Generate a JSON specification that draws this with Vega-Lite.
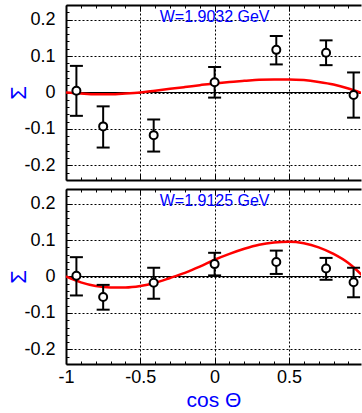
{
  "$schema": "https://vega.github.io/schema/vega-lite/v6.json",
  "padding": {"left": 7, "top": 4, "right": 0, "bottom": 0},
  "config": {
    "font": "Liberation Sans",
    "view": {"stroke": null},
    "axis": {"tickColor": "black", "tickWidth": 1, "domainColor": "black", "gridColor": "black", "gridDash": [2, 2], "gridWidth": 1, "labelColor": "black", "labelFontSize": 18, "labelFlush": false, "titleFontWeight": "normal"}
  },
  "datasets": {
    "pts": [
      {"panel": "a", "x": -0.93, "y": 0.005, "lo": -0.064, "hi": 0.073},
      {"panel": "a", "x": -0.75, "y": -0.093, "lo": -0.151, "hi": -0.038},
      {"panel": "a", "x": -0.41, "y": -0.117, "lo": -0.162, "hi": -0.074},
      {"panel": "a", "x": 0.0, "y": 0.028, "lo": -0.014, "hi": 0.070},
      {"panel": "a", "x": 0.415, "y": 0.117, "lo": 0.077, "hi": 0.155},
      {"panel": "a", "x": 0.75, "y": 0.109, "lo": 0.075, "hi": 0.143},
      {"panel": "a", "x": 0.935, "y": -0.007, "lo": -0.069, "hi": 0.055},
      {"panel": "b", "x": -0.93, "y": 0.002, "lo": -0.052, "hi": 0.053},
      {"panel": "b", "x": -0.75, "y": -0.056, "lo": -0.091, "hi": -0.023},
      {"panel": "b", "x": -0.41, "y": -0.017, "lo": -0.061, "hi": 0.024},
      {"panel": "b", "x": 0.0, "y": 0.034, "lo": 0.003, "hi": 0.065},
      {"panel": "b", "x": 0.415, "y": 0.040, "lo": 0.007, "hi": 0.071},
      {"panel": "b", "x": 0.75, "y": 0.022, "lo": -0.009, "hi": 0.051},
      {"panel": "b", "x": 0.935, "y": -0.016, "lo": -0.057, "hi": 0.024}
    ],
    "curve": [
      {"panel": "a", "x": -1.0, "y": 0.0},
      {"panel": "a", "x": -0.9, "y": -0.003},
      {"panel": "a", "x": -0.8, "y": -0.005},
      {"panel": "a", "x": -0.7, "y": -0.005},
      {"panel": "a", "x": -0.6, "y": -0.003},
      {"panel": "a", "x": -0.5, "y": 0.0},
      {"panel": "a", "x": -0.4, "y": 0.005},
      {"panel": "a", "x": -0.3, "y": 0.010},
      {"panel": "a", "x": -0.2, "y": 0.015},
      {"panel": "a", "x": -0.1, "y": 0.020},
      {"panel": "a", "x": 0.0, "y": 0.025},
      {"panel": "a", "x": 0.1, "y": 0.029},
      {"panel": "a", "x": 0.2, "y": 0.032},
      {"panel": "a", "x": 0.3, "y": 0.035},
      {"panel": "a", "x": 0.4, "y": 0.036},
      {"panel": "a", "x": 0.5, "y": 0.036},
      {"panel": "a", "x": 0.6, "y": 0.034},
      {"panel": "a", "x": 0.7, "y": 0.029},
      {"panel": "a", "x": 0.8, "y": 0.022},
      {"panel": "a", "x": 0.9, "y": 0.011},
      {"panel": "a", "x": 1.0, "y": -0.003},
      {"panel": "b", "x": -1.0, "y": 0.0},
      {"panel": "b", "x": -0.9, "y": -0.016},
      {"panel": "b", "x": -0.8, "y": -0.026},
      {"panel": "b", "x": -0.7, "y": -0.030},
      {"panel": "b", "x": -0.6, "y": -0.030},
      {"panel": "b", "x": -0.5, "y": -0.026},
      {"panel": "b", "x": -0.4, "y": -0.017},
      {"panel": "b", "x": -0.3, "y": -0.004},
      {"panel": "b", "x": -0.2, "y": 0.010},
      {"panel": "b", "x": -0.1, "y": 0.027},
      {"panel": "b", "x": 0.0, "y": 0.046},
      {"panel": "b", "x": 0.1, "y": 0.062},
      {"panel": "b", "x": 0.2, "y": 0.076},
      {"panel": "b", "x": 0.3, "y": 0.087},
      {"panel": "b", "x": 0.4, "y": 0.093},
      {"panel": "b", "x": 0.5, "y": 0.095},
      {"panel": "b", "x": 0.6, "y": 0.091},
      {"panel": "b", "x": 0.7, "y": 0.080},
      {"panel": "b", "x": 0.8, "y": 0.062},
      {"panel": "b", "x": 0.9, "y": 0.037},
      {"panel": "b", "x": 0.95, "y": 0.020},
      {"panel": "b", "x": 1.0, "y": 0.0}
    ]
  },
  "spacing": 7,
  "vconcat": [
    {
      "width": 295, "height": 175,
      "resolve": {"axis": {"x": "independent", "y": "independent"}},
      "layer": [
        {
          "data": {"values": [{"zero": 0}]},
          "mark": {"type": "rule", "color": "black", "strokeWidth": 1},
          "encoding": {
            "y": {"field": "zero", "type": "quantitative", "scale": {"domain": [-0.24, 0.24], "nice": false, "zero": false},
              "axis": {"orient": "left", "values": [-0.2, -0.1, 0, 0.1, 0.2], "labelExpr": "'' + datum.value", "grid": true, "tickSize": -6, "domain": true, "domainWidth": 2, "labelPadding": 17, "title": "Σ", "titleColor": "#0000ff", "titleFontSize": 22, "titleX": -48, "titleY": 87.5, "titleAngle": -90, "titleAlign": "center", "titleBaseline": "middle"}}
          }
        },
        {
          "data": {"name": "curve"},
          "transform": [{"filter": "datum.panel === 'a'"}],
          "mark": {"type": "line", "color": "#ff0000", "strokeWidth": 2.5, "clip": true, "interpolate": "monotone"},
          "encoding": {
            "x": {"field": "x", "type": "quantitative", "scale": {"domain": [-1, 0.985], "nice": false, "zero": false},
              "axis": {"orient": "bottom", "values": [-1, -0.5, 0, 0.5], "labels": false, "grid": true, "tickSize": -6, "domain": true, "domainWidth": 2, "title": null}},
            "y": {"field": "y", "type": "quantitative", "scale": {"domain": [-0.24, 0.24], "nice": false, "zero": false},
              "axis": {"orient": "left", "values": [-0.22, -0.2, -0.18, -0.16, -0.14, -0.12, -0.1, -0.08, -0.06, -0.04, -0.02, 0, 0.02, 0.04, 0.06, 0.08, 0.1, 0.12, 0.14, 0.16, 0.18, 0.2, 0.22], "labels": false, "grid": false, "domain": false, "tickSize": -3, "title": null}}
          }
        },
        {
          "data": {"name": "pts"},
          "transform": [{"filter": "datum.panel === 'a'"}],
          "mark": {"type": "rule", "color": "black", "strokeWidth": 2},
          "encoding": {
            "x": {"field": "x", "type": "quantitative", "scale": {"domain": [-1, 0.985], "nice": false, "zero": false},
              "axis": {"orient": "bottom", "values": [-0.9, -0.8, -0.7, -0.6, -0.4, -0.3, -0.2, -0.1, 0.1, 0.2, 0.3, 0.4, 0.6, 0.7, 0.8, 0.9], "labels": false, "grid": false, "domain": false, "tickSize": -3, "title": null}},
            "y": {"field": "lo", "type": "quantitative", "scale": {"domain": [-0.24, 0.24], "nice": false, "zero": false}, "axis": null},
            "y2": {"field": "hi"}
          }
        },
        {
          "data": {"name": "pts"},
          "transform": [{"filter": "datum.panel === 'a'"}],
          "mark": {"type": "tick", "orient": "horizontal", "color": "black", "size": 13, "thickness": 2, "opacity": 1},
          "encoding": {
            "x": {"field": "x", "type": "quantitative", "scale": {"domain": [-1, 0.985], "nice": false, "zero": false},
              "axis": {"orient": "top", "values": [-1, -0.5, 0, 0.5], "labels": false, "grid": false, "domain": true, "domainWidth": 2, "tickSize": -6, "title": null}},
            "y": {"field": "lo", "type": "quantitative", "scale": {"domain": [-0.24, 0.24], "nice": false, "zero": false}, "axis": null}
          }
        },
        {
          "data": {"name": "pts"},
          "transform": [{"filter": "datum.panel === 'a'"}],
          "mark": {"type": "tick", "orient": "horizontal", "color": "black", "size": 13, "thickness": 2, "opacity": 1},
          "encoding": {
            "x": {"field": "x", "type": "quantitative", "scale": {"domain": [-1, 0.985], "nice": false, "zero": false},
              "axis": {"orient": "top", "values": [-0.9, -0.8, -0.7, -0.6, -0.4, -0.3, -0.2, -0.1, 0.1, 0.2, 0.3, 0.4, 0.6, 0.7, 0.8, 0.9], "labels": false, "grid": false, "domain": false, "tickSize": -3, "title": null}},
            "y": {"field": "hi", "type": "quantitative", "scale": {"domain": [-0.24, 0.24], "nice": false, "zero": false}, "axis": null}
          }
        },
        {
          "data": {"name": "pts"},
          "transform": [{"filter": "datum.panel === 'a'"}],
          "mark": {"type": "point", "shape": "circle", "filled": true, "fill": "white", "stroke": "black", "strokeWidth": 2, "size": 64, "opacity": 1},
          "encoding": {
            "x": {"field": "x", "type": "quantitative", "scale": {"domain": [-1, 0.985], "nice": false, "zero": false}, "axis": null},
            "y": {"field": "y", "type": "quantitative", "scale": {"domain": [-0.24, 0.24], "nice": false, "zero": false}, "axis": null}
          }
        },
        {
          "data": {"values": [{"label": "W=1.9032 GeV"}]},
          "mark": {"type": "text", "color": "#0000ff", "fontSize": 16, "baseline": "middle", "align": "center"},
          "encoding": {
            "x": {"datum": 0, "type": "quantitative", "axis": null},
            "y": {"datum": 0.208, "type": "quantitative", "axis": null},
            "text": {"field": "label"}
          }
        }
      ]
    },
    {
      "width": 295, "height": 175,
      "resolve": {"axis": {"x": "independent", "y": "independent"}},
      "layer": [
        {
          "data": {"values": [{"zero": 0}]},
          "mark": {"type": "rule", "color": "black", "strokeWidth": 1},
          "encoding": {
            "y": {"field": "zero", "type": "quantitative", "scale": {"domain": [-0.24, 0.24], "nice": false, "zero": false},
              "axis": {"orient": "left", "values": [-0.2, -0.1, 0, 0.1, 0.2], "labelExpr": "'' + datum.value", "grid": true, "tickSize": -6, "domain": true, "domainWidth": 2, "labelPadding": 17, "title": "Σ", "titleColor": "#0000ff", "titleFontSize": 22, "titleX": -48, "titleY": 87.5, "titleAngle": -90, "titleAlign": "center", "titleBaseline": "middle"}}
          }
        },
        {
          "data": {"name": "curve"},
          "transform": [{"filter": "datum.panel === 'b'"}],
          "mark": {"type": "line", "color": "#ff0000", "strokeWidth": 2.5, "clip": true, "interpolate": "monotone"},
          "encoding": {
            "x": {"field": "x", "type": "quantitative", "scale": {"domain": [-1, 0.985], "nice": false, "zero": false},
              "axis": {"orient": "bottom", "values": [-1, -0.5, 0, 0.5], "labelExpr": "'' + datum.value", "labels": true, "labelPadding": 10, "grid": true, "tickSize": -6, "domain": true, "domainWidth": 2, "title": "cos Θ", "titleColor": "#0000ff", "titleFontSize": 21, "titlePadding": 3}},
            "y": {"field": "y", "type": "quantitative", "scale": {"domain": [-0.24, 0.24], "nice": false, "zero": false},
              "axis": {"orient": "left", "values": [-0.22, -0.2, -0.18, -0.16, -0.14, -0.12, -0.1, -0.08, -0.06, -0.04, -0.02, 0, 0.02, 0.04, 0.06, 0.08, 0.1, 0.12, 0.14, 0.16, 0.18, 0.2, 0.22], "labels": false, "grid": false, "domain": false, "tickSize": -3, "title": null}}
          }
        },
        {
          "data": {"name": "pts"},
          "transform": [{"filter": "datum.panel === 'b'"}],
          "mark": {"type": "rule", "color": "black", "strokeWidth": 2},
          "encoding": {
            "x": {"field": "x", "type": "quantitative", "scale": {"domain": [-1, 0.985], "nice": false, "zero": false},
              "axis": {"orient": "bottom", "values": [-0.9, -0.8, -0.7, -0.6, -0.4, -0.3, -0.2, -0.1, 0.1, 0.2, 0.3, 0.4, 0.6, 0.7, 0.8, 0.9], "labels": false, "grid": false, "domain": false, "tickSize": -3, "title": null}},
            "y": {"field": "lo", "type": "quantitative", "scale": {"domain": [-0.24, 0.24], "nice": false, "zero": false}, "axis": null},
            "y2": {"field": "hi"}
          }
        },
        {
          "data": {"name": "pts"},
          "transform": [{"filter": "datum.panel === 'b'"}],
          "mark": {"type": "tick", "orient": "horizontal", "color": "black", "size": 13, "thickness": 2, "opacity": 1},
          "encoding": {
            "x": {"field": "x", "type": "quantitative", "scale": {"domain": [-1, 0.985], "nice": false, "zero": false},
              "axis": {"orient": "top", "values": [-1, -0.5, 0, 0.5], "labels": false, "grid": false, "domain": true, "domainWidth": 2, "tickSize": -6, "title": null}},
            "y": {"field": "lo", "type": "quantitative", "scale": {"domain": [-0.24, 0.24], "nice": false, "zero": false}, "axis": null}
          }
        },
        {
          "data": {"name": "pts"},
          "transform": [{"filter": "datum.panel === 'b'"}],
          "mark": {"type": "tick", "orient": "horizontal", "color": "black", "size": 13, "thickness": 2, "opacity": 1},
          "encoding": {
            "x": {"field": "x", "type": "quantitative", "scale": {"domain": [-1, 0.985], "nice": false, "zero": false},
              "axis": {"orient": "top", "values": [-0.9, -0.8, -0.7, -0.6, -0.4, -0.3, -0.2, -0.1, 0.1, 0.2, 0.3, 0.4, 0.6, 0.7, 0.8, 0.9], "labels": false, "grid": false, "domain": false, "tickSize": -3, "title": null}},
            "y": {"field": "hi", "type": "quantitative", "scale": {"domain": [-0.24, 0.24], "nice": false, "zero": false}, "axis": null}
          }
        },
        {
          "data": {"name": "pts"},
          "transform": [{"filter": "datum.panel === 'b'"}],
          "mark": {"type": "point", "shape": "circle", "filled": true, "fill": "white", "stroke": "black", "strokeWidth": 2, "size": 64, "opacity": 1},
          "encoding": {
            "x": {"field": "x", "type": "quantitative", "scale": {"domain": [-1, 0.985], "nice": false, "zero": false}, "axis": null},
            "y": {"field": "y", "type": "quantitative", "scale": {"domain": [-0.24, 0.24], "nice": false, "zero": false}, "axis": null}
          }
        },
        {
          "data": {"values": [{"label": "W=1.9125 GeV"}]},
          "mark": {"type": "text", "color": "#0000ff", "fontSize": 16, "baseline": "middle", "align": "center"},
          "encoding": {
            "x": {"datum": 0, "type": "quantitative", "axis": null},
            "y": {"datum": 0.208, "type": "quantitative", "axis": null},
            "text": {"field": "label"}
          }
        }
      ]
    }
  ]
}
